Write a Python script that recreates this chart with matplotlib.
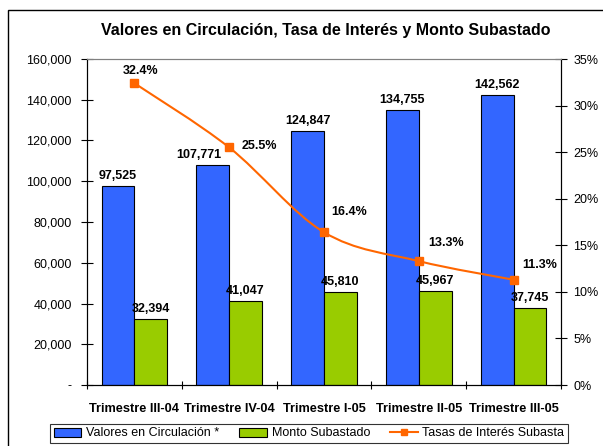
import matplotlib.pyplot as plt
from matplotlib.patches import Patch, Rectangle
from matplotlib.lines import Line2D
from matplotlib.path import Path
from matplotlib.patches import PathPatch
from matplotlib.ticker import FuncFormatter, MultipleLocator
import numpy as np

plt.rcParams['font.family'] = ['Liberation Sans', 'DejaVu Sans']

# datos
trimestres = ['Trimestre III-04', 'Trimestre IV-04', 'Trimestre I-05', 'Trimestre II-05', 'Trimestre III-05']
valores_circ = [97525, 107771, 124847, 134755, 142562]
monto_subastado = [32394, 41047, 45810, 45967, 37745]
tasas = [32.4, 25.5, 16.4, 13.3, 11.3]

# desplazamientos de etiquetas (pixeles)
off_circ = [(0, 4), (-14, 4), (0, 4), (0, 4), (0, 4)]
off_monto = [(0, 4), (0, 4), (0, 4), (0, 4), (0, 4)]
off_tasa = [(6, 6), (30, -5), (25, 14), (27, 12), (26, 9)]

azul = '#3366FF'
verde = '#99CC00'
naranja = '#FF6600'

fig = plt.figure(figsize=(6.03, 4.46), dpi=100)
ax = fig.add_axes([87/603, 1-385/446, (561-87)/603, (385-59)/446])
ax2 = ax.twinx()

x = np.arange(len(trimestres))
w = 0.345
ax.bar(x - w/2, valores_circ, w, color=azul, edgecolor='black', linewidth=0.8, zorder=2)
ax.bar(x + w/2, monto_subastado, w, color=verde, edgecolor='black', linewidth=0.8, zorder=2)

for xi, v, o in zip(x - w/2, valores_circ, off_circ):
    ax.annotate(f'{v:,}', (xi, v), xytext=o, textcoords='offset pixels',
                ha='center', va='bottom', fontsize=9, fontweight='bold')
for xi, v, o in zip(x + w/2, monto_subastado, off_monto):
    ax.annotate(f'{v:,}', (xi, v), xytext=o, textcoords='offset pixels',
                ha='center', va='bottom', fontsize=9, fontweight='bold')

ax.set_xlim(-0.5, len(trimestres) - 0.5)
ax.set_ylim(0, 160000)
ax.yaxis.set_major_locator(MultipleLocator(20000))
ax.yaxis.set_major_formatter(FuncFormatter(lambda v, p: '-' if v == 0 else f'{int(v):,}'))
ax.set_xticks(np.arange(-0.5, len(trimestres) + 0.5, 1))
ax.set_xticklabels([])
ax.set_xticks(x, minor=True)
ax.set_xticklabels(trimestres, minor=True, fontsize=9.2, fontweight='bold')
ax.tick_params(axis='x', which='minor', length=0, pad=13)
ax.tick_params(axis='x', which='major', direction='inout', length=6, width=0.8)
ax.tick_params(axis='y', direction='inout', length=8, width=0.8, labelsize=9, pad=7)

# linea suavizada (curva bezier entre los puntos)
ax2.set_ylim(0, 35)
pts = np.column_stack([x, tasas]).astype(float)
ext = np.vstack([pts[0], pts, pts[-1]])
verts = [tuple(pts[0])]
codes = [Path.MOVETO]
for i in range(len(pts) - 1):
    p0, p1, p2, p3 = ext[i], ext[i+1], ext[i+2], ext[i+3]
    c1 = p1 + (p2 - p0) / 6
    c2 = p2 - (p3 - p1) / 6
    verts += [tuple(c1), tuple(c2), tuple(p2)]
    codes += [Path.CURVE4] * 3
ax2.add_patch(PathPatch(Path(verts, codes), facecolor='none', edgecolor=naranja, linewidth=1.5, zorder=3))
ax2.plot(x, tasas, linestyle='none', marker='s', markersize=6, color=naranja, zorder=4)
for xi, t, o in zip(x, tasas, off_tasa):
    ax2.annotate(f'{t:.1f}%', (xi, t), xytext=o, textcoords='offset pixels',
                 ha='center', va='bottom', fontsize=9, fontweight='bold')
ax2.yaxis.set_major_locator(MultipleLocator(5))
ax2.yaxis.set_major_formatter(FuncFormatter(lambda v, p: f'{int(v)}%'))
ax2.tick_params(axis='y', direction='inout', length=8, width=0.8, labelsize=9, pad=5)

for a in (ax, ax2):
    a.spines['top'].set_color('#808080')
    a.spines['top'].set_linewidth(0.8)
    for s in ('left', 'right', 'bottom'):
        a.spines[s].set_linewidth(0.8)

fig.text(326/603, 1-31/446, 'Valores en Circulación, Tasa de Interés y Monto Subastado',
         ha='center', va='center', fontsize=11.5, fontweight='bold')

handles = [Patch(facecolor=azul, edgecolor='black', linewidth=0.8),
           Patch(facecolor=verde, edgecolor='black', linewidth=0.8),
           Line2D([], [], color=naranja, marker='s', markersize=5, linewidth=1.5)]
labels = ['Valores en Circulación *', 'Monto Subastado', 'Tasas de Interés Subasta']
leg = fig.legend(handles, labels, loc='center', bbox_to_anchor=(309/603, 1-433.5/446),
                 ncol=3, fontsize=9, frameon=True, fancybox=False, edgecolor='black',
                 borderpad=0.3, handlelength=2.2, handleheight=0.7, columnspacing=1.6,
                 handletextpad=0.4)
leg.get_frame().set_linewidth(0.8)

fig.patches.append(Rectangle((8/603, -0.2), 1.0, 1.2 - 10/446, transform=fig.transFigure,
                             fill=False, edgecolor='black', linewidth=1.0))

fig.savefig('out.png', dpi=100)
